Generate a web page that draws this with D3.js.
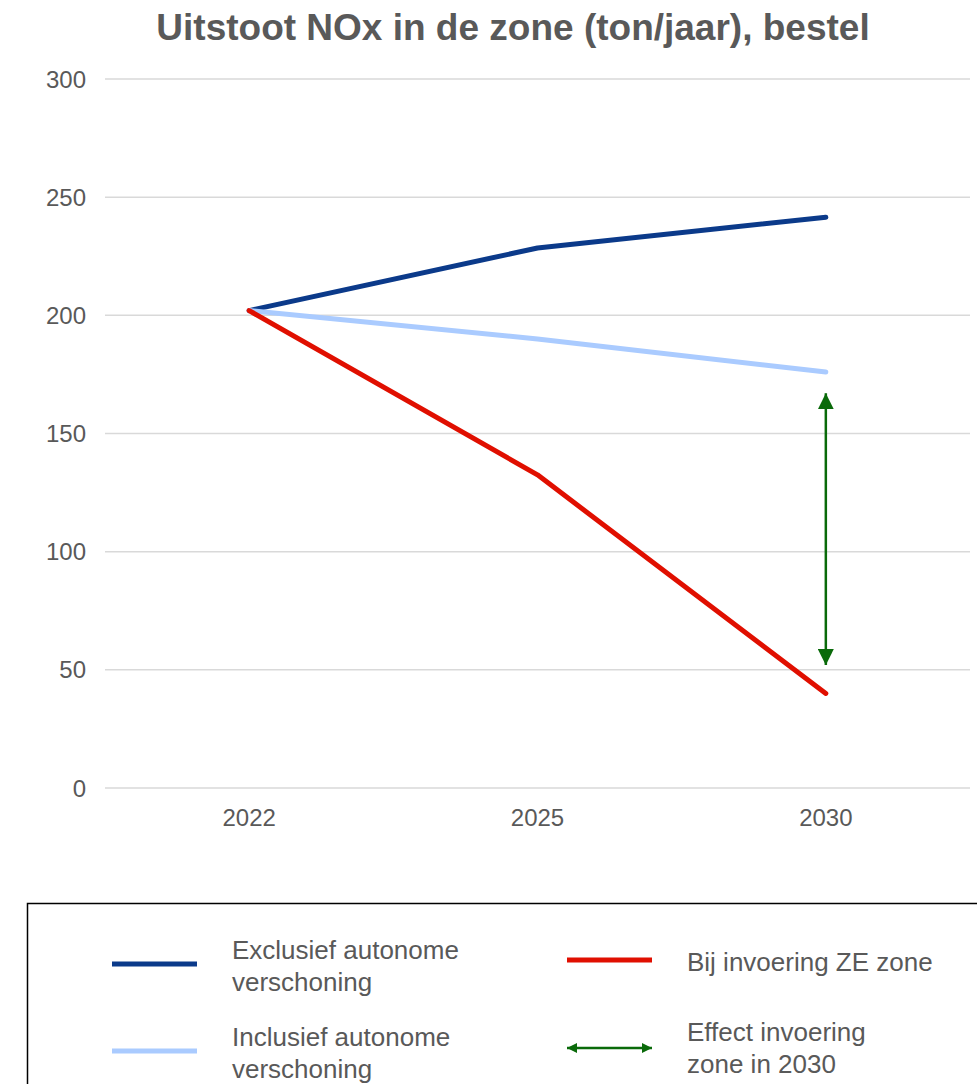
<!DOCTYPE html>
<html>
<head>
<meta charset="utf-8">
<script src="https://cdn.jsdelivr.net/npm/d3@7"></script>
<style>
  body { margin: 0; background: #fff; }
  text { font-family: "Liberation Sans", Arial, sans-serif; }
</style>
</head>
<body>
<div id="chart"></div>
<script>
const years = ["2022", "2025", "2030"];
const exclusief = [202, 228.5, 241.5];
const inclusief = [202, 190, 176];
const zeZone = [202, 132.5, 40];
const yTicks = [0, 50, 100, 150, 200, 250, 300];
const effectArrow = { year: "2030", from: 167, to: 52 };
const legendItems = [
  { label: ["Exclusief autonome", "verschoning"], color: "#0b3a8a", type: "line" },
  { label: ["Bij invoering ZE zone"], color: "#e00f00", type: "line" },
  { label: ["Inclusief autonome", "verschoning"], color: "#aacbff", type: "line" },
  { label: ["Effect invoering", "zone in 2030"], color: "#0a6a0a", type: "arrow" }
];

const width = 977, height = 1084,
      margin = { left: 105, right: 7, top: 79, bottom: 296 };

const svg = d3.select("#chart").append("svg")
  .attr("width", width)
  .attr("height", height);

const x = d3.scaleBand()
  .domain(years)
  .range([margin.left, width - margin.right]);

const y = d3.scaleLinear()
  .domain([0, 300])
  .range([height - margin.bottom, margin.top]);

svg.append("text")
  .attr("x", 513)
  .attr("y", 40)
  .attr("text-anchor", "middle")
  .style("font-size", "37px")
  .style("font-weight", "bold")
  .style("fill", "#595959")
  .text("Uitstoot NOx in de zone (ton/jaar), bestel");

// grid + y labels
svg.append("g")
  .selectAll("line")
  .data(yTicks)
  .enter()
  .append("line")
  .attr("x1", margin.left)
  .attr("x2", width - margin.right)
  .attr("y1", d => y(d))
  .attr("y2", d => y(d))
  .style("stroke", "#d9d9d9")
  .style("stroke-width", 1.5);

svg.append("g")
  .selectAll("text")
  .data(yTicks)
  .enter()
  .append("text")
  .attr("x", 86)
  .attr("y", d => y(d) + 8.5)
  .attr("text-anchor", "end")
  .style("font-size", "24px")
  .style("fill", "#595959")
  .text(d => d);

svg.append("g")
  .selectAll("text")
  .data(years)
  .enter()
  .append("text")
  .attr("x", d => x(d) + x.bandwidth() / 2)
  .attr("y", 826)
  .attr("text-anchor", "middle")
  .style("font-size", "24px")
  .style("fill", "#595959")
  .text(d => d);

const line = d3.line()
  .x((d, i) => x(years[i]) + x.bandwidth() / 2)
  .y(d => y(d));

[[exclusief, legendItems[0].color], [inclusief, legendItems[2].color], [zeZone, legendItems[1].color]]
  .forEach(([vals, color]) => {
    svg.append("path")
      .attr("d", line(vals))
      .style("fill", "none")
      .style("stroke", color)
      .style("stroke-width", 5)
      .style("stroke-linecap", "round")
      .style("stroke-linejoin", "round");
  });

const green = legendItems[3].color;
const defs = svg.append("defs");
defs.append("marker")
  .attr("id", "head")
  .attr("viewBox", "0 0 10 10")
  .attr("refX", 10)
  .attr("refY", 5)
  .attr("markerUnits", "userSpaceOnUse")
  .attr("markerWidth", 16)
  .attr("markerHeight", 16)
  .attr("orient", "auto-start-reverse")
  .append("path")
  .attr("d", "M0,0 L10,5 L0,10 Z")
  .style("fill", green);

defs.append("marker")
  .attr("id", "headSmall")
  .attr("viewBox", "0 0 10 10")
  .attr("refX", 10)
  .attr("refY", 5)
  .attr("markerUnits", "userSpaceOnUse")
  .attr("markerWidth", 12)
  .attr("markerHeight", 10)
  .attr("orient", "auto-start-reverse")
  .append("path")
  .attr("d", "M0,0 L10,5 L0,10 Z")
  .style("fill", green);

const ax = x(effectArrow.year) + x.bandwidth() / 2;
svg.append("line")
  .attr("x1", ax).attr("x2", ax)
  .attr("y1", y(effectArrow.from))
  .attr("y2", y(effectArrow.to))
  .style("stroke", green)
  .style("stroke-width", 2.5)
  .attr("marker-start", "url(#head)")
  .attr("marker-end", "url(#head)");

// legend
svg.append("rect")
  .attr("x", 27.5)
  .attr("y", 903.5)
  .attr("width", 980)
  .attr("height", 220)
  .style("fill", "none")
  .style("stroke", "#000")
  .style("stroke-width", 1.5);

const legPos = [
  { lx: 112, ly: 964, tx: 232, ty: 959 },
  { lx: 567, ly: 960, tx: 687, ty: 971 },
  { lx: 112, ly: 1051, tx: 232, ty: 1046 },
  { lx: 567, ly: 1048, tx: 687, ty: 1041 }
];

legendItems.forEach((item, i) => {
  const p = legPos[i];
  if (item.type === "line") {
    svg.append("line")
      .attr("x1", p.lx).attr("x2", p.lx + 85)
      .attr("y1", p.ly).attr("y2", p.ly)
      .style("stroke", item.color)
      .style("stroke-width", 5);
  } else {
    svg.append("line")
      .attr("x1", p.lx).attr("x2", p.lx + 85)
      .attr("y1", p.ly).attr("y2", p.ly)
      .style("stroke", item.color)
      .style("stroke-width", 2.5)
      .attr("marker-start", "url(#headSmall)")
      .attr("marker-end", "url(#headSmall)");
  }
  const t = svg.append("text")
    .attr("x", p.tx)
    .attr("y", p.ty)
    .style("font-size", "26px")
    .style("fill", "#595959");
  item.label.forEach((s, j) => {
    t.append("tspan")
      .attr("x", p.tx)
      .attr("dy", j === 0 ? 0 : 32)
      .text(s);
  });
});
</script>
</body>
</html>
